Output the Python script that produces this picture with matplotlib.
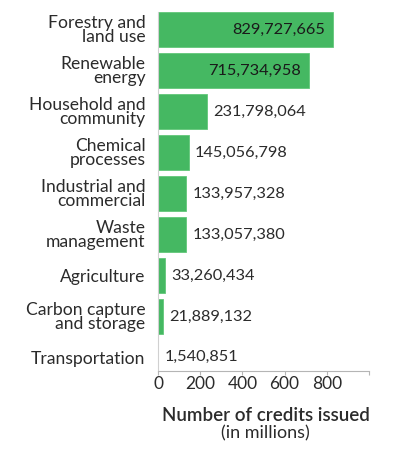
import numpy as np
import matplotlib.pyplot as plt

# %% Data
categories = ['Forestry and\nland use', 'Renewable\nenergy', 'Household and\ncommunity',
              'Chemical\nprocesses', 'Industrial and\ncommercial', 'Waste\nmanagement',
              'Agriculture', 'Carbon capture\nand storage', 'Transportation']
credits = [829727665, 715734958, 231798064, 145056798, 133957328,
           133057380, 33260434, 21889132, 1540851]
inside = [True, True, False, False, False, False, False, False, False]
xticks = [0, 200, 400, 600, 800, 1000]
xtick_labels = ['0', '200', '400', '600', '800', '']

plt.rcParams['font.family'] = ['Lato', 'DejaVu Sans']
green = '#45b862'
text_col = '#2b2b2b'
axis_col = '#b5b5b5'

# %% Plot
fig = plt.figure(figsize=(3.95, 4.49), dpi=100)
ax = fig.add_axes([0.4, 0.174, 0.534, 0.799])

y = np.arange(len(categories))
millions = np.array(credits) / 1e6
ax.barh(y, millions, height=0.85, color=green, edgecolor='#62c77a', linewidth=0.6)

for yi, v, raw, ins in zip(y, millions, credits, inside):
    lab = f'{raw:,}'
    if ins:
        ax.annotate(lab, (v, yi), xytext=(-6, 0), textcoords='offset points',
                    ha='right', va='center', fontsize=11.8, color='#1a1a1a')
    else:
        ax.annotate(lab, (v, yi), xytext=(4.5, 0), textcoords='offset points',
                    ha='left', va='center', fontsize=11.8, color=text_col)

ax.set_yticks(y)
ax.set_yticklabels(categories, fontsize=12.6, color=text_col, linespacing=0.82)
ax.tick_params(axis='y', length=0, pad=9)
ax.set_ylim(8.33, -0.43)

ax.set_xlim(0, 1000)
ax.set_xticks(xticks)
ax.set_xticklabels(xtick_labels, fontsize=12.5, color=text_col)
ax.tick_params(axis='x', length=3, color=axis_col, pad=1)

for s in ['top', 'right']:
    ax.spines[s].set_visible(False)
ax.spines['left'].set_color('#d0d0d0')
ax.spines['bottom'].set_color(axis_col)

ax.text(0.51, -0.10, 'Number of credits issued', transform=ax.transAxes,
        ha='center', va='top', fontsize=13.5, fontweight='semibold', color=text_col)
ax.text(0.51, -0.153, '(in millions)', transform=ax.transAxes,
        ha='center', va='top', fontsize=13, color=text_col)

fig.savefig('out.png', dpi=100)
